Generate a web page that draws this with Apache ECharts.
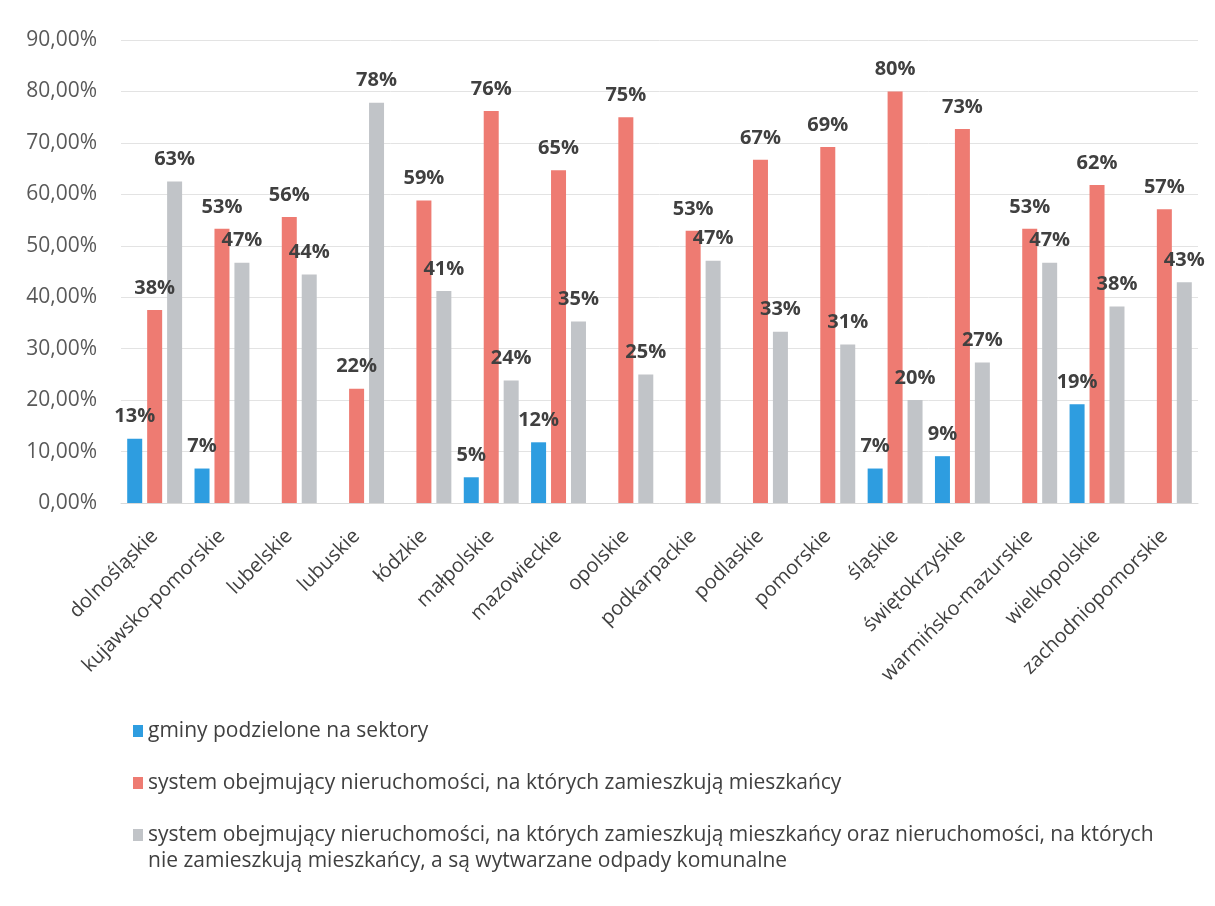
<!DOCTYPE html>
<html>
<head>
<meta charset="utf-8">
<script src="https://cdn.jsdelivr.net/npm/echarts@6/dist/echarts.min.js"></script>
<style>html,body{margin:0;padding:0;background:#fff;}#c{width:1215px;height:906px;}</style>
</head>
<body>
<div id="c"></div>
<script>
const categories = ['dolnośląskie','kujawsko-pomorskie','lubelskie','lubuskie','łódzkie','małpolskie','mazowieckie','opolskie','podkarpackie','podlaskie','pomorskie','śląskie','świętokrzyskie','warmińsko-mazurskie','wielkopolskie','zachodniopomorskie'];
const seriesNames = [
  'gminy podzielone na sektory',
  'system obejmujący nieruchomości, na których zamieszkują mieszkańcy',
  'system obejmujący nieruchomości, na których zamieszkują mieszkańcy oraz nieruchomości, na których nie zamieszkują mieszkańcy, a są wytwarzane odpady komunalne'
];
const legendLine1 = 'system obejmujący nieruchomości, na których zamieszkują mieszkańcy oraz nieruchomości, na których';
const legendLine2 = 'nie zamieszkują mieszkańcy, a są wytwarzane odpady komunalne';
const sektory = [12.5, 6.7, 0, 0, 0, 5.0, 11.8, 0, 0, 0, 0, 6.7, 9.1, 0, 19.2, 0];
const mieszkancy = [37.5, 53.3, 55.6, 22.2, 58.8, 76.2, 64.7, 75.0, 52.9, 66.7, 69.2, 80.0, 72.7, 53.3, 61.8, 57.1];
const oraz = [62.5, 46.7, 44.4, 77.8, 41.2, 23.8, 35.3, 25.0, 47.1, 33.3, 30.8, 20.0, 27.3, 46.7, 38.2, 42.9];
const colors = ['#2E9DE0', '#EE7B72', '#C1C4C8'];

const chart = echarts.init(document.getElementById('c'));
const font = '"Open Sans", sans-serif';
const labelCfg = {
  show: true, position: 'top', distance: 12,
  fontFamily: font, fontWeight: 'bold', fontSize: 20, color: '#404040',
  formatter: p => p.value > 0 ? Math.round(p.value) + '%' : ''
};
function mk(i, data) {
  return {
    name: seriesNames[i], type: 'bar', data: data,
    barWidth: 15, barGap: '33%',
    itemStyle: { color: colors[i] },
    label: labelCfg
  };
}
chart.setOption({
  animation: false,
  textStyle: { fontFamily: font },
  grid: { left: 121, right: 17, top: 40, bottom: 403, containLabel: false },
  xAxis: {
    type: 'category', data: categories,
    axisLine: { show: true, lineStyle: { color: '#D9D9D9' } },
    axisTick: { show: false },
    axisLabel: { rotate: 45, interval: 0, fontFamily: font, fontSize: 20, color: '#404040', margin: 30 }
  },
  yAxis: {
    type: 'value', min: 0, max: 90, interval: 10,
    axisLine: { show: false }, axisTick: { show: false },
    splitLine: { lineStyle: { color: '#E3E3E3' } },
    axisLabel: { fontFamily: font, fontSize: 21, color: '#595959', margin: 24,
      formatter: v => v.toFixed(2).replace('.', ',') + '%' }
  },
  legend: {
    orient: 'vertical', left: 128, top: 714, itemWidth: 10, itemHeight: 12, itemGap: 28,
    icon: 'rect',
    textStyle: { fontFamily: font, fontSize: 21, color: '#404040', lineHeight: 24 },
    formatter: n => n === seriesNames[2] ? legendLine1 : n,
    data: seriesNames
  },
  graphic: [{
    type: 'text', left: 148, top: 851,
    style: { text: legendLine2, fontFamily: font, fontSize: 21, fill: '#404040' }
  }],
  series: [mk(0, sektory), mk(1, mieszkancy), mk(2, oraz)]
});
</script>
</body>
</html>
